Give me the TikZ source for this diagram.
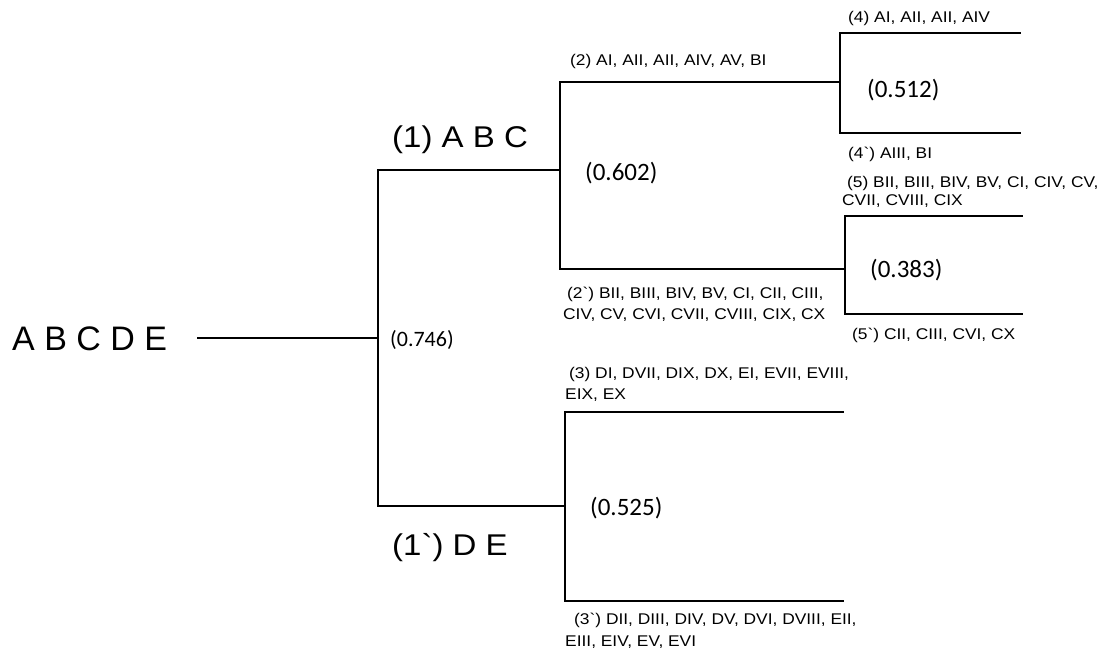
\documentclass[tikz,border=0pt]{standalone}
\usepackage{fontspec}
\newfontfamily\lab{Liberation Sans}
\newfontfamily\labw{Liberation Sans}[FakeStretch=1.12]
\newfontfamily\labb{Liberation Sans}[FakeStretch=1.1]
\newfontfamily\numfont{Carlito}
\begin{document}
\begin{tikzpicture}[x=1pt,y=-1pt,
  br/.style={line width=2.6pt,line cap=rect},
  small/.style={font=\labw\fontsize{15.5}{21}\selectfont,inner sep=0pt,align=left},
  big/.style={font=\labb\fontsize{30}{34}\selectfont,inner sep=0pt},
  num/.style={font=\numfont\fontsize{25}{28}\selectfont,inner sep=0pt,anchor=west}]
\useasboundingbox (0,0) rectangle (1113,655);
% root
\node[font=\lab\fontsize{34}{40}\selectfont,inner sep=0pt,anchor=base west] (root) at (12,350) {A B C D E};
\coordinate (r0) at (197,338);
\coordinate (r1) at (378,338);
\draw[line width=2pt] (r0) -- (r1);
% bracket 1
\coordinate (b1t) at (378,170);
\coordinate (b1b) at (378,506);
\coordinate (b1te) at (560,170);
\coordinate (b1be) at (565,506);
\draw[br] (b1te) -- (b1t) -- (b1b) -- (b1be);
\node[big,anchor=base west] (n1) at (392,148) {(1) A B C};
\node[big,anchor=base west] (n1p) at (392,555) {(1`) D E};
\node[num,font=\numfont\fontsize{22}{24}\selectfont] (v746) at (390,340) {(0.746)};
% bracket 2
\coordinate (b2t) at (560,82);
\coordinate (b2b) at (560,269);
\coordinate (b2te) at (840,82);
\coordinate (b2be) at (845,269);
\draw[br] (b2te) -- (b2t) -- (b2b) -- (b2be);
\node[small,anchor=base west] (n2) at (570,66) {(2) AI, AII, AII, AIV, AV, BI};
\node[small,anchor=north west] (n2p) at (563,287) {\hspace{4pt}(2`) BII, BIII, BIV, BV, CI, CII, CIII,\\CIV, CV, CVI, CVII, CVIII, CIX, CX};
\node[num] (v602) at (585,173) {(0.602)};
% bracket 4
\coordinate (b4t) at (840,33);
\coordinate (b4b) at (840,133);
\coordinate (b4te) at (1020,33);
\coordinate (b4be) at (1020,133);
\draw[br] (b4te) -- (b4t) -- (b4b) -- (b4be);
\node[small,anchor=base west] (n4) at (848,23) {(4) AI, AII, AII, AIV};
\node[small,anchor=base west] (n4p) at (848,159) {(4`) AIII, BI};
\node[num] (v512) at (867,90) {(0.512)};
% bracket 5
\coordinate (b5t) at (845,216);
\coordinate (b5b) at (845,314);
\coordinate (b5te) at (1022,216);
\coordinate (b5be) at (1022,314);
\draw[br] (b5te) -- (b5t) -- (b5b) -- (b5be);
\node[small,anchor=north west,font=\labw\fontsize{15.5}{18}\selectfont] (n5) at (842,176) {\hspace{5pt}(5) BII, BIII, BIV, BV, CI, CIV, CV,\\CVII, CVIII, CIX};
\node[small,anchor=base west] (n5p) at (852,339) {(5`) CII, CIII, CVI, CX};
\node[num] (v383) at (870,270) {(0.383)};
% bracket 3
\coordinate (b3t) at (565,412);
\coordinate (b3b) at (565,601);
\coordinate (b3te) at (843,412);
\coordinate (b3be) at (843,601);
\draw[br] (b3te) -- (b3t) -- (b3b) -- (b3be);
\node[small,anchor=north west] (n3) at (565,367) {\hspace{4pt}(3) DI, DVII, DIX, DX, EI, EVII, EVIII,\\EIX, EX};
\node[small,anchor=north west,font=\labw\fontsize{15.5}{22}\selectfont] (n3p) at (565,613) {\hspace{9pt}(3`) DII, DIII, DIV, DV, DVI, DVIII, EII,\\EIII, EIV, EV, EVI};
\node[num] (v525) at (590,508) {(0.525)};
\end{tikzpicture}
\end{document}
